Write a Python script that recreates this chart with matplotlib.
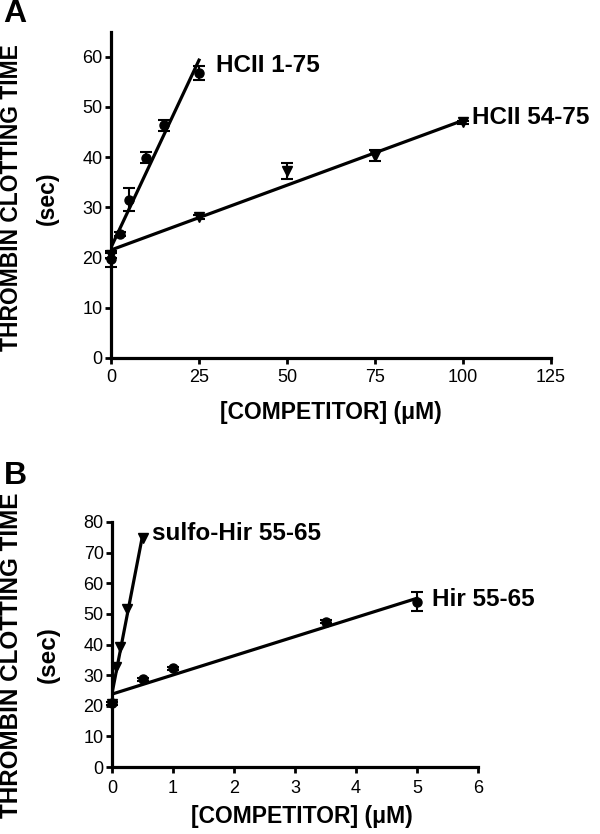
import matplotlib
matplotlib.use("Agg")
import matplotlib.pyplot as plt
import numpy as np

plt.rcParams['font.family'] = ['Liberation Sans', 'DejaVu Sans']

# ---- Panel A data ----
a_hcii175_x = [0, 2.5, 5, 10, 15, 25]
a_hcii175_y = [19.7, 24.6, 31.5, 39.9, 46.3, 56.8]
a_hcii175_err = [1.6, 0.4, 2.3, 1.05, 1.1, 1.4]
a_hcii175_fit = [22.0, 59.3]          # fit line values at first and last x

a_hcii5475_x = [0, 25, 50, 75, 100]
a_hcii5475_y = [20.5, 28.0, 37.2, 40.3, 46.9]
a_hcii5475_err = [0.5, 0.4, 1.6, 1.1, 0.3]
a_hcii5475_fit = [21.5, 47.3]

# ---- Panel B data ----
b_hir_x = [0, 0.5, 1, 3.5, 5]
b_hir_y = [20.8, 28.6, 32.2, 47.5, 54.0]
b_hir_err = [0.4, 0.5, 0.5, 0.5, 3.1]
b_hir_fit = [23.8, 55.1]

b_sulfo_x = [0, 0.0625, 0.125, 0.25, 0.5]
b_sulfo_y = [20.5, 32.5, 39.1, 51.6, 74.7]
b_sulfo_fit = [24.0, 75.5]

a_xticks = [0, 25, 50, 75, 100, 125]
a_yticks = [0, 10, 20, 30, 40, 50, 60]
b_xticks = [0, 1, 2, 3, 4, 5, 6]
b_yticks = [0, 10, 20, 30, 40, 50, 60, 70, 80]

ylabel_1 = 'THROMBIN CLOTTING TIME'
ylabel_2 = '(sec)'
xlabel = '[COMPETITOR] (\u03bcM)'

W, H = 600, 834
fig = plt.figure(figsize=(W / 100, H / 100), dpi=100)

def frac(l, r, b, t):
    return [l / W, 1 - b / H, (r - l) / W, (b - t) / H]

def fx(x):
    return x / W

def fy(y):
    return 1 - y / H

axA = fig.add_axes(frac(111, 551, 358, 31.5))
axB = fig.add_axes(frac(112, 478, 767, 522))

LW = 2.3
for ax in (axA, axB):
    for s in ('top', 'right'):
        ax.spines[s].set_visible(False)
    for s in ('left', 'bottom'):
        ax.spines[s].set_linewidth(LW)
    ax.tick_params(direction='out', length=4.5, width=2, labelsize=13)
    ax.tick_params(axis='y', pad=1.5)
axA.tick_params(axis='x', pad=3.5)
axB.tick_params(axis='x', pad=5)

SER = 17.5
LAB = 16.5

# Panel A
axA.plot([a_hcii175_x[0], a_hcii175_x[-1]], a_hcii175_fit, color='black', lw=LW, zorder=3)
axA.plot([a_hcii5475_x[0], a_hcii5475_x[-1]], a_hcii5475_fit, color='black', lw=LW, zorder=3)
axA.errorbar(a_hcii175_x, a_hcii175_y, yerr=a_hcii175_err, fmt='o', color='black',
             ms=6.5, capsize=4, elinewidth=1.5, capthick=1.5, zorder=4, clip_on=False)
axA.errorbar(a_hcii5475_x, a_hcii5475_y, yerr=a_hcii5475_err, fmt='v', color='black',
             ms=6.5, capsize=4, elinewidth=1.5, capthick=1.5, zorder=4, clip_on=False)
axA.set_xlim(0, 125)
axA.set_ylim(0, 65)
axA.set_xticks(a_xticks)
axA.set_yticks(a_yticks)
fig.text(fx(216), fy(65), 'HCII 1-75', fontsize=SER, fontweight='bold', va='center', ha='left')
fig.text(fx(472), fy(118), 'HCII 54-75', fontsize=SER, fontweight='bold', va='center', ha='left')
fig.text(fx(3), fy(14), 'A', fontsize=23, fontweight='bold', va='center', ha='left')
fig.text(fx(331), fy(413), xlabel, fontsize=LAB, fontweight='bold', va='center', ha='center')
fig.text(fx(12), fy(198), ylabel_1, fontsize=LAB, fontweight='bold', va='center', ha='center', rotation=90)
fig.text(fx(47), fy(198), ylabel_2, fontsize=LAB, fontweight='bold', va='center', ha='center', rotation=90)

# Panel B
axB.plot([b_hir_x[0], b_hir_x[-1]], b_hir_fit, color='black', lw=LW, zorder=3)
axB.plot([b_sulfo_x[0], b_sulfo_x[-1]], b_sulfo_fit, color='black', lw=LW, zorder=3)
axB.errorbar(b_hir_x, b_hir_y, yerr=b_hir_err, fmt='o', color='black',
             ms=6.5, capsize=4, elinewidth=1.5, capthick=1.5, zorder=4, clip_on=False)
axB.plot(b_sulfo_x, b_sulfo_y, 'v', color='black', ms=6.5, zorder=4, clip_on=False)
axB.set_xlim(0, 6)
axB.set_ylim(0, 80)
axB.set_xticks(b_xticks)
axB.set_yticks(b_yticks)
fig.text(fx(152), fy(533), 'sulfo-Hir 55-65', fontsize=SER, fontweight='bold', va='center', ha='left')
fig.text(fx(432), fy(599), 'Hir 55-65', fontsize=SER, fontweight='bold', va='center', ha='left')
fig.text(fx(4), fy(476), 'B', fontsize=23, fontweight='bold', va='center', ha='left')
fig.text(fx(302), fy(816), xlabel, fontsize=LAB, fontweight='bold', va='center', ha='center')
fig.text(fx(12), fy(655), ylabel_1, fontsize=17.5, fontweight='bold', va='center', ha='center', rotation=90)
fig.text(fx(48), fy(655), ylabel_2, fontsize=17.5, fontweight='bold', va='center', ha='center', rotation=90)

fig.savefig('out.png', dpi=100, facecolor='white')
